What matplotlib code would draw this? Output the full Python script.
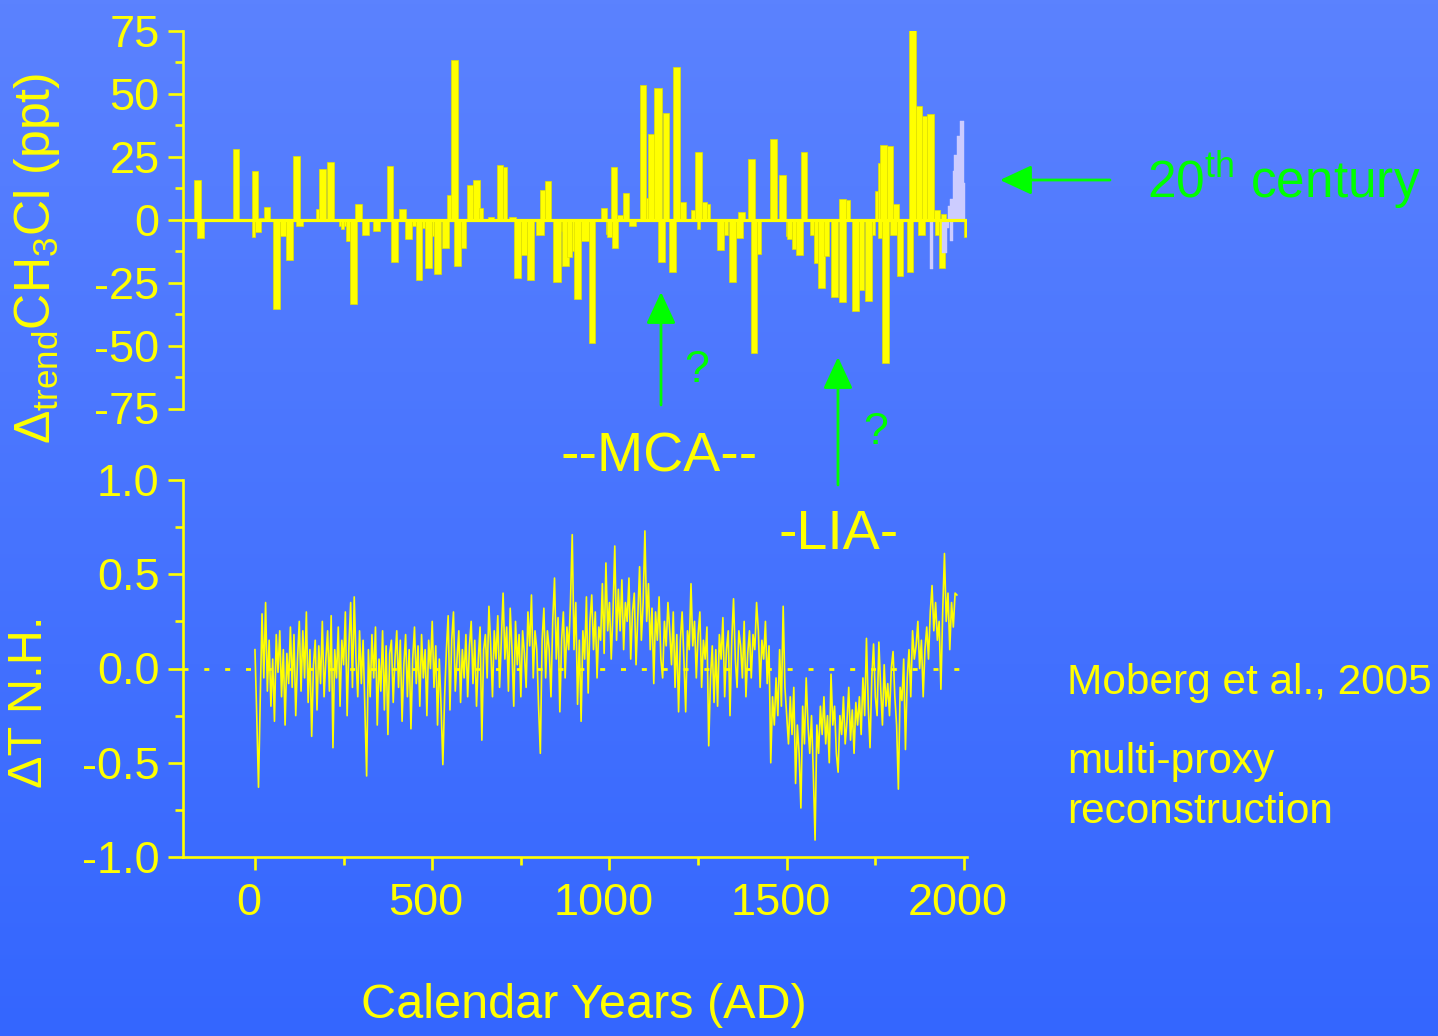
import numpy as np
import matplotlib
matplotlib.use("Agg")
import matplotlib.pyplot as plt
from matplotlib.ticker import FixedLocator, FormatStrFormatter
from matplotlib.transforms import ScaledTranslation

plt.rcParams['font.family'] = ['Liberation Sans', 'DejaVu Sans']
plt.rcParams['mathtext.fontset'] = 'custom'
plt.rcParams['mathtext.rm'] = 'Liberation Sans'
plt.rcParams['mathtext.it'] = 'Liberation Sans'
plt.rcParams['axes.unicode_minus'] = False

YELLOW = '#ffff00'
LAVENDER = '#ccccff'
GREEN = '#00ff00'

# --- CH3Cl trend anomalies from ice-core samples: (start year, end year, ppt) ---
ch3cl_start = [-172, -164, -62, -8, -8, 0, 11, 25, 51, 71, 88, 107, 116, 172, 181, 203,
               237, 243, 257, 268, 282, 302, 333, 373, 384, 407, 424, 444, 455, 472, 480,
               500, 506, 528, 542, 554, 562, 582, 599, 616, 633, 658, 684, 700, 718, 732,
               751, 768, 794, 805, 819, 842, 862, 867, 881, 893, 901, 921, 941, 975, 989,
               992, 1003, 1006, 1020, 1037, 1056, 1085, 1102, 1110, 1127, 1138, 1150, 1169,
               1178, 1198, 1229, 1240, 1246, 1260, 1274, 1302, 1322, 1336, 1356, 1362, 1390,
               1398, 1415, 1452, 1477, 1497, 1500, 1514, 1525, 1540, 1565, 1576, 1588, 1605,
               1624, 1647, 1647, 1667, 1684, 1703, 1720, 1740, 1749, 1757, 1757, 1763, 1768,
               1782, 1791, 1799, 1811, 1839, 1845, 1864, 1870, 1881, 1895, 1915, 1918, 1929,
               1935, 2000]
ch3cl_end = [-153, -144, -45, 8, 0, 17, 25, 42, 71, 88, 107, 127, 136, 181, 201, 223,
             257, 251, 268, 288, 302, 322, 353, 390, 404, 427, 444, 455, 472, 480, 500,
             506, 525, 548, 562, 573, 582, 596, 616, 636, 644, 675, 700, 712, 737, 751,
             768, 788, 814, 819, 836, 862, 867, 887, 895, 904, 921, 941, 958, 992, 1003,
             1008, 1020, 1025, 1037, 1056, 1076, 1102, 1113, 1130, 1147, 1158, 1169, 1189,
             1198, 1215, 1240, 1260, 1254, 1274, 1285, 1322, 1333, 1356, 1376, 1381, 1410,
             1415, 1427, 1472, 1497, 1511, 1514, 1528, 1545, 1556, 1576, 1588, 1607, 1619,
             1644, 1667, 1667, 1678, 1703, 1718, 1740, 1749, 1757, 1766, 1768, 1782, 1788,
             1799, 1811, 1816, 1828, 1856, 1864, 1881, 1890, 1895, 1915, 1932, 1929, 1946,
             1950, 2008]
ch3cl_ppt = [15.9, -7.5, 28.0, 19.3, -6.9, -5.0, 0.8, 5.0, -35.4, -6.6, -15.9, 25.1, -2.6,
             4.2, 20.2, 23.0, -2.6, -3.7, -8.6, -33.7, 6.3, -6.0, -4.4, 21.2, -16.9, 4.2,
             -7.9, -2.4, -23.8, -3.3, -19.2, -6.6, -21.6, -11.2, 9.7, 63.5, -18.3, -11.2,
             13.8, 15.9, 4.6, 0.9, 21.8, 20.8, 1.2, -23.1, -13.9, -23.8, -6.0, 11.9, 15.5,
             -24.9, -4.6, -18.5, -15.0, -12.3, -31.7, -8.3, -48.9, 4.6, -5.7, -6.9, 20.9,
             -11.2, 2.0, 10.6, -2.6, 53.3, 8.6, 34.1, 52.2, -16.9, 42.3, -20.8, 60.4, 6.9,
             4.0, 26.7, -3.7, 7.1, 6.2, -12.2, -6.3, -24.9, -7.5, 3.0, 24.1, -52.9, -13.6,
             32.1, 17.6, -6.6, -7.9, -11.6, -14.2, 26.9, -6.0, -17.2, -27.1, -14.3, -30.8,
             8.2, -32.8, 7.9, -36.4, -27.8, -32.4, -6.0, 11.2, 22.5, -7.5, 29.6, -56.9, 29.4,
             -6.3, 6.3, -22.5, -20.8, 75.4, 45.2, -6.2, 41.0, 42.1, 3.7, -6.0, -19.2, 2.2,
             -6.9]

# --- 20th century (firn air / atmospheric) values ---
modern_start = [1904, 1938, 1952, 1960, 1955, 1961, 1968, 1973, 1979, 1989, 1999]
modern_end = [1913, 1952, 1958, 1968, 1961, 1968, 1973, 1979, 1989, 1999, 2004]
modern_ppt = [-19.8, -13.2, -3.3, -8.3, 5.3, 8.0, 19.2, 25.8, 33.3, 39.0, 14.5]

# --- Northern Hemisphere temperature anomaly, 5-year steps from AD 0 ---
nh_years = list(range(0, 1981, 5))
nh_temp = [
    0.10, -0.25, -0.63, -0.15, 0.29, -0.05, 0.35, -0.12, 0.15, -0.20, 0.05, -0.28, 0.18, -0.02, 0.20, -0.15, 0.10, -0.30, 0.08, -0.08,
    0.22, -0.10, 0.18, -0.25, 0.05, 0.25, -0.12, 0.20, -0.05, 0.30, -0.18, 0.10, -0.36, 0.02, 0.15, -0.22, 0.12, -0.08, 0.25, -0.15,
    0.05, 0.20, -0.12, 0.28, -0.42, 0.10, -0.05, 0.22, -0.20, 0.15, 0.02, 0.30, -0.25, 0.12, 0.35, -0.10, 0.38, 0.05, -0.15, 0.20,
    -0.08, 0.15, -0.20, -0.57, 0.10, -0.15, 0.18, -0.05, 0.22, -0.30, 0.05, -0.12, 0.20, -0.22, 0.12, -0.35, 0.08, 0.15, -0.18, 0.05,
    0.20, -0.10, 0.15, -0.28, 0.02, 0.18, -0.15, 0.10, -0.32, 0.05, 0.22, -0.08, 0.12, -0.20, 0.18, -0.05, 0.10, -0.25, 0.15, 0.00,
    0.25, -0.10, 0.12, -0.30, 0.05, -0.20, -0.51, -0.15, 0.10, 0.28, -0.22, 0.15, 0.30, -0.12, 0.05, 0.20, -0.18, 0.10, -0.05, 0.18,
    -0.15, 0.12, 0.25, -0.08, 0.15, -0.20, 0.05, 0.22, -0.38, 0.10, 0.18, -0.05, 0.33, 0.12, -0.15, 0.20, 0.05, 0.28, -0.10, 0.15,
    0.40, 0.05, 0.22, -0.12, 0.32, 0.10, -0.20, 0.25, 0.02, 0.18, -0.15, 0.20, 0.08, -0.10, 0.30, 0.12, 0.39, -0.05, 0.20, 0.10,
    -0.20, -0.45, 0.15, 0.32, -0.05, 0.20, 0.10, -0.15, 0.25, 0.48, 0.05, 0.27, -0.23, 0.15, 0.30, -0.05, 0.22, 0.10, 0.35, 0.71,
    0.10, 0.35, -0.19, 0.15, -0.28, 0.20, 0.05, 0.38, -0.13, 0.25, 0.39, 0.10, 0.30, -0.05, 0.22, 0.15, 0.45, 0.08, 0.56, 0.20,
    0.35, 0.05, 0.30, 0.65, 0.15, 0.42, 0.20, 0.47, 0.10, 0.35, 0.25, 0.48, 0.05, 0.30, 0.40, 0.02, 0.28, 0.54, 0.15, 0.35,
    0.73, 0.25, 0.45, 0.10, 0.32, -0.08, 0.30, 0.15, 0.38, 0.05, -0.05, 0.25, 0.12, 0.35, 0.20, 0.02, 0.30, -0.10, 0.18, -0.23,
    0.15, 0.30, 0.05, -0.23, 0.20, 0.10, 0.45, 0.12, 0.25, -0.05, 0.18, 0.30, -0.10, 0.15, 0.05, 0.22, -0.41, -0.05, 0.12, -0.18,
    0.10, -0.20, 0.18, 0.05, 0.27, -0.15, 0.10, 0.20, -0.25, 0.15, 0.37, 0.05, -0.10, 0.20, 0.12, -0.05, 0.25, -0.15, 0.08, 0.20,
    -0.05, 0.18, 0.10, 0.35, 0.20, -0.10, 0.15, 0.05, 0.25, -0.08, 0.12, -0.50, -0.15, -0.30, -0.05, -0.25, 0.10, -0.20, 0.33, -0.10,
    -0.25, -0.40, -0.15, -0.35, -0.10, -0.61, -0.30, -0.45, -0.74, -0.20, -0.40, -0.05, -0.30, -0.45, -0.25, -0.55, -0.91, -0.30, -0.45, -0.20,
    -0.35, -0.15, -0.40, -0.25, -0.50, -0.03, -0.30, -0.20, -0.45, -0.55, -0.25, -0.35, -0.15, -0.40, -0.28, -0.10, -0.38, -0.22, -0.45, -0.18,
    -0.30, -0.15, -0.35, -0.05, -0.25, 0.16, -0.20, -0.42, -0.05, 0.13, -0.15, -0.25, 0.14, -0.10, -0.30, 0.02, -0.20, -0.08, -0.25, 0.00,
    0.09, -0.15, -0.30, -0.64, -0.10, -0.17, 0.05, -0.43, -0.05, 0.10, -0.15, 0.20, 0.05, 0.12, 0.25, 0.00, 0.15, -0.15, 0.10, 0.22,
    0.05, 0.30, 0.44, 0.20, 0.35, 0.15, 0.25, -0.11, 0.30, 0.61, 0.25, 0.40, 0.10, 0.35, 0.22, 0.40, 0.39,
]

ppt_ticks = [-75, -50, -25, 0, 25, 50, 75]
temp_ticks = [-1.0, -0.5, 0.0, 0.5, 1.0]
year_ticks = [0, 500, 1000, 1500, 2000]

W, H = 1438, 1036
fig = plt.figure(figsize=(W / 100, H / 100), dpi=100)

# vertical blue gradient background
bg = fig.add_axes([0, 0, 1, 1], zorder=-10)
top_c = np.array([91, 130, 254]) / 255
bot_c = np.array([52, 102, 255]) / 255
t = np.linspace(0, 1, 256)[:, None]
grad = (top_c[None, :] * (1 - t) + bot_c[None, :] * t)[:, None, :]
bg.imshow(grad, aspect='auto', extent=[0, 1, 0, 1], origin='upper')
bg.axis('off')

x_left, x_right = 183, 967.5
xlim = (-203, 2010)

def px_axes(l, top, r, bottom):
    return [l / W, 1 - bottom / H, (r - l) / W, (bottom - top) / H]

ax1 = fig.add_axes(px_axes(x_left, 30.7, x_right, 408.5))
ax2 = fig.add_axes(px_axes(x_left, 480, x_right, 857))

for ax in (ax1, ax2):
    ax.set_facecolor('none')
    ax.set_xlim(*xlim)
    for s in ('top', 'right'):
        ax.spines[s].set_visible(False)
    for s in ('left', 'bottom'):
        ax.spines[s].set_color(YELLOW)
        ax.spines[s].set_linewidth(1.9)
    ax.tick_params(which='both', direction='out', colors=YELLOW, width=1.9,
                   labelsize=32.5, labelcolor=YELLOW)
    ax.tick_params(which='major', length=11, pad=6)
    ax.tick_params(which='minor', length=5.5)

# ---- top panel: CH3Cl bars ----
cs = np.array(ch3cl_start, float)
ce = np.array(ch3cl_end, float)
ax1.bar(cs, ch3cl_ppt, width=ce - cs, align='edge', color=YELLOW,
        edgecolor='#e0e000', linewidth=0.5, zorder=3)
ms = np.array(modern_start, float)
me = np.array(modern_end, float)
ax1.bar(ms, modern_ppt, width=me - ms, align='edge', color=LAVENDER,
        edgecolor=LAVENDER, linewidth=0.3, zorder=4)
ax1.axhline(0, color=YELLOW, lw=2.3, zorder=5)
ax1.set_ylim(-75, 75)
ax1.spines['bottom'].set_visible(False)
ax1.set_xticks([])
ax1.yaxis.set_major_locator(FixedLocator(ppt_ticks))
ax1.yaxis.set_minor_locator(FixedLocator([v + 12.5 for v in ppt_ticks[:-1]]))
ax1.set_yticklabels([str(v) for v in ppt_ticks])

# ---- bottom panel: NH temperature ----
ax2.plot(nh_years, nh_temp, color=YELLOW, lw=1.2, zorder=3)
ax2.axhline(0, color=YELLOW, lw=2.0, linestyle=(0, (1.8, 5.7)), zorder=2)
ax2.set_ylim(-1.0, 1.0)
ax2.yaxis.set_major_locator(FixedLocator(temp_ticks))
ax2.yaxis.set_minor_locator(FixedLocator([-0.75, -0.25, 0.25, 0.75]))
ax2.yaxis.set_major_formatter(FormatStrFormatter('%.1f'))
ax2.xaxis.set_major_locator(FixedLocator(year_ticks))
ax2.xaxis.set_minor_locator(FixedLocator([250, 750, 1250, 1750]))
ax2.tick_params(axis='x', which='major', length=9, pad=10, labelsize=32.5)
ax2.tick_params(axis='x', which='minor', length=6)
shift = ScaledTranslation(-6 / 100, 0, fig.dpi_scale_trans)
for lbl in ax2.get_xticklabels():
    lbl.set_transform(lbl.get_transform() + shift)

def fpx(x, y):
    return (x / W, 1 - y / H)

# axis titles
fig.text(*fpx(37, 258), r'$\Delta_{\rm trend}$CH$_3$Cl (ppt)', rotation=90,
         ha='center', va='center', color=YELLOW, fontsize=36)
fig.text(*fpx(30, 702), 'ΔT N.H.', rotation=90, ha='center', va='center',
         color=YELLOW, fontsize=35)
fig.text(*fpx(584, 1005), 'Calendar Years (AD)', ha='center', va='center',
         color=YELLOW, fontsize=35)

# period labels
fig.text(*fpx(659, 458), '--MCA--', ha='center', va='center', color=YELLOW, fontsize=40)
fig.text(*fpx(839, 535), '-LIA-', ha='center', va='center', color=YELLOW, fontsize=40)

# source notes
fig.text(*fpx(1067, 683), 'Moberg et al., 2005', ha='left', va='center',
         color=YELLOW, fontsize=30.5)
fig.text(*fpx(1067, 762), 'multi-proxy', ha='left', va='center', color=YELLOW, fontsize=30.5)
fig.text(*fpx(1067, 812), 'reconstruction', ha='left', va='center', color=YELLOW, fontsize=30.5)

# green arrows and markers
arrow_kw = dict(arrowstyle='-|>,head_length=1.4,head_width=0.65', mutation_scale=14,
                lw=2, color=GREEN, shrinkA=0, shrinkB=0)

def arrow(x0, y0, x1, y1):
    fig.add_artist(matplotlib.patches.FancyArrowPatch(
        fpx(x0, y0), fpx(x1, y1), transform=fig.transFigure, **arrow_kw))

arrow(661, 405, 661, 292)
arrow(838, 485, 838, 357)
arrow(1110, 180, 1000, 180)

fig.text(*fpx(697, 370), '?', ha='center', va='center', color=GREEN, fontsize=32)
fig.text(*fpx(876, 432), '?', ha='center', va='center', color=GREEN, fontsize=32)
fig.text(*fpx(1147, 180), r'20$^{\rm th}$ century', ha='left', va='center',
         color=GREEN, fontsize=37)

fig.savefig('out.png', dpi=100)
